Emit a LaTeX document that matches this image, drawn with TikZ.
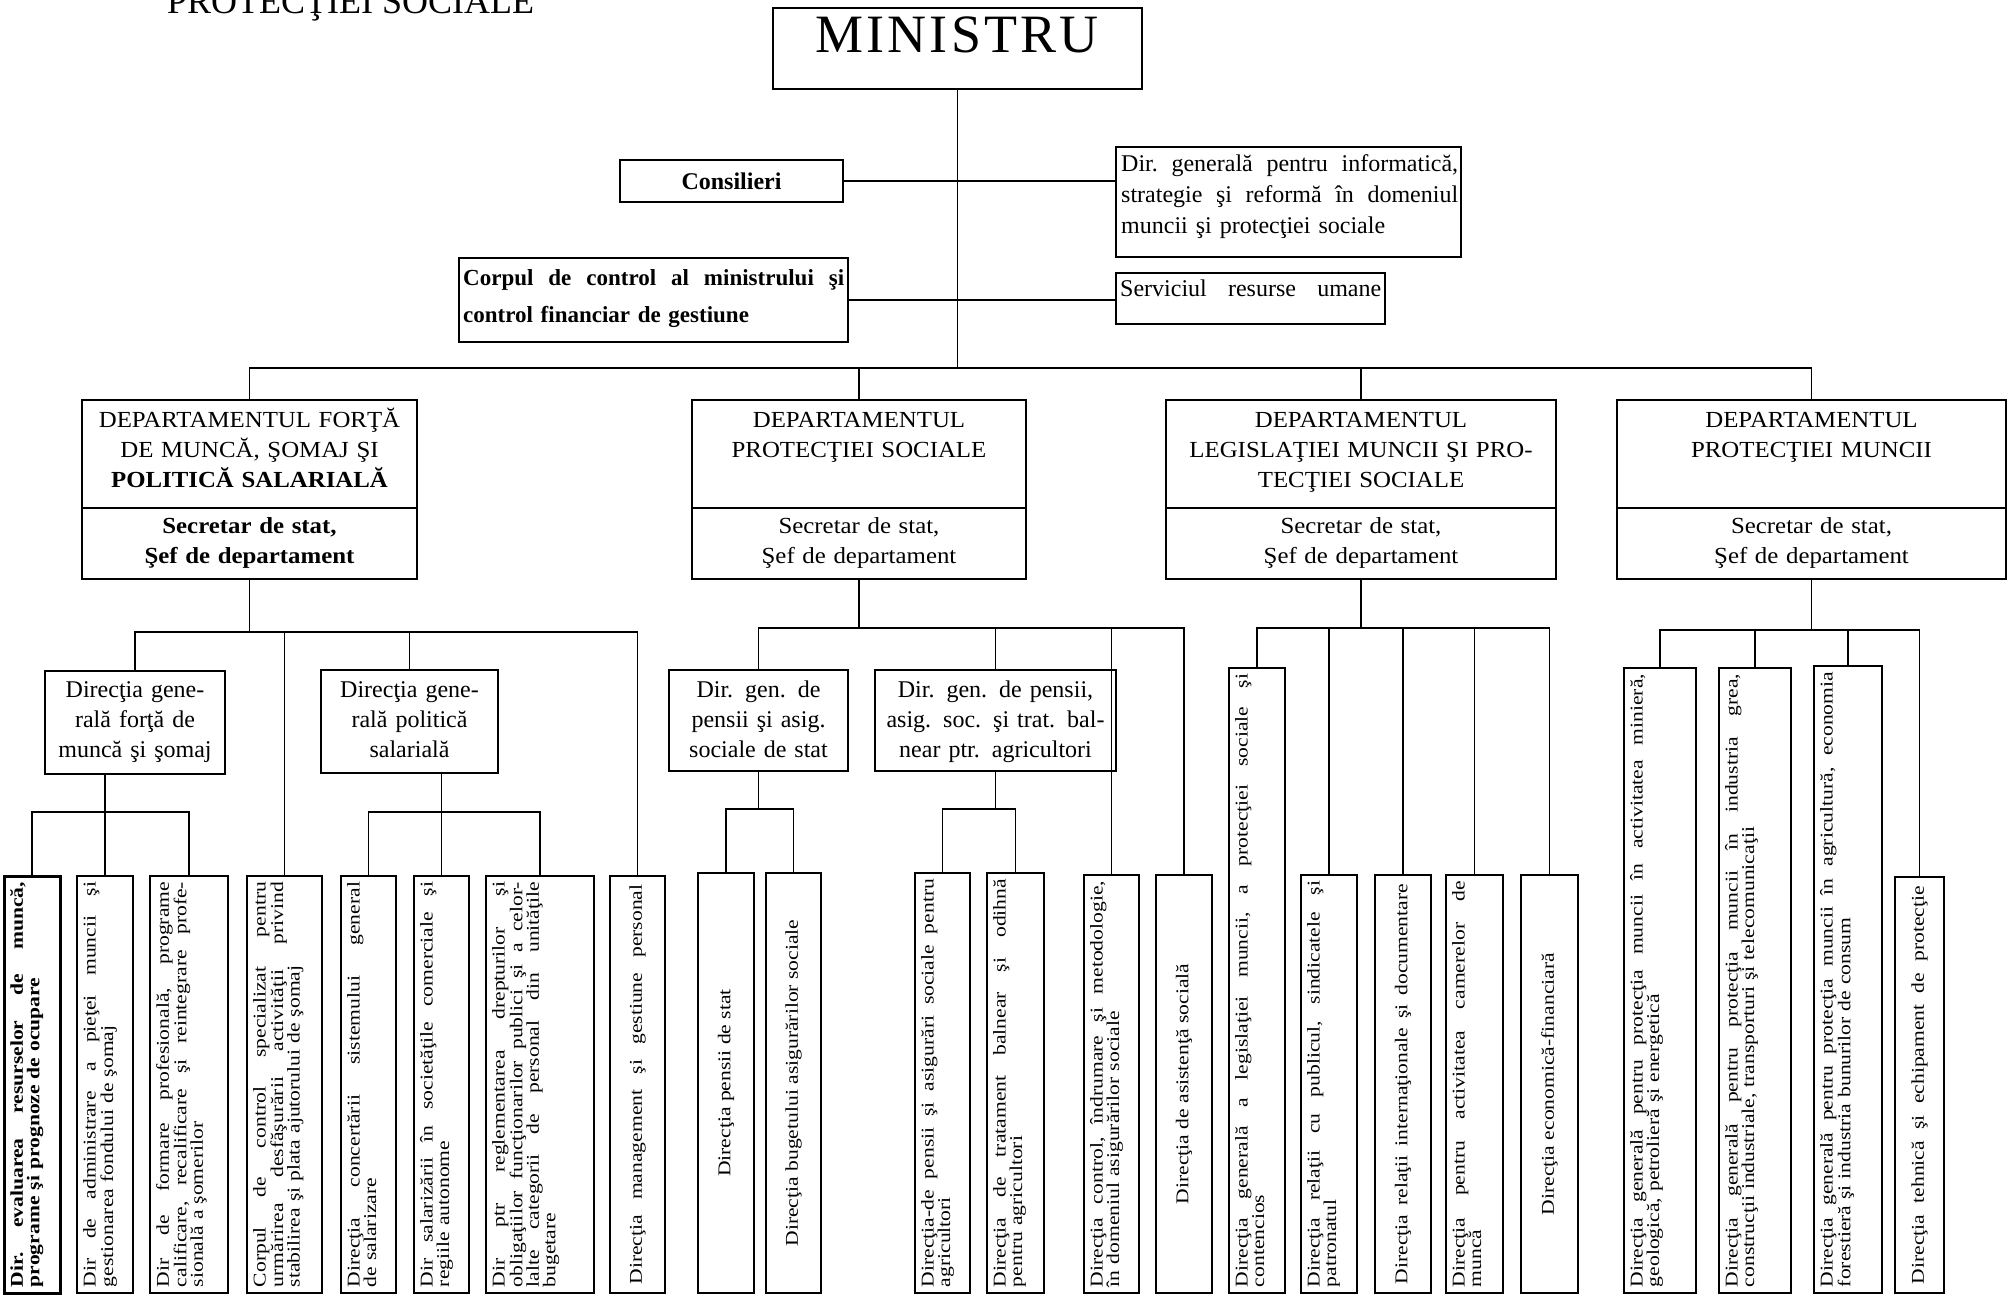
\documentclass[tikz,border=0pt]{standalone}
\usepackage{fontspec}
\setmainfont{Liberation Serif}
\newfontfamily\vfont[FakeStretch=1.2]{Liberation Serif}
\newfontfamily\dfont[FakeStretch=1.08]{Liberation Serif}
\newfontfamily\minfont[LetterSpace=6]{Liberation Serif}
\newcommand\fsz[2]{\fontsize{#1}{#2}\selectfont}
\def\jw{0pt}
\newcommand\myjl[1]{{\frenchspacing\spaceskip=0pt\xspaceskip=0pt\makebox[\jw][s]{#1}}}
\newcommand\mkbox[7][]{\node[bx,#1,minimum width={(#5)-(#3)},minimum height={(#6)-(#4)}] (#2) at ({((#3)+(#5))/2},{((#4)+(#6))/2}) {#7};}
\newcommand\vtx[4][]{\def\jw{#3}\node[vtxt,#1,text width=#3] (#2t) at ([xshift=6pt]#2.west) {#4};}
\newcommand\vcx[3][]{\node[vtxt,#1,anchor=center] (#2t) at (#2.center) {#3};}
\tikzset{
 bx/.style={draw, line width=2.4pt, rectangle, inner sep=0pt, outer sep=0pt, align=center},
 cn/.style={line width=1.7pt},
 vtxt/.style={rotate=90, anchor=north, align=left, inner sep=0pt, font=\vfont\fsz{18}{16.5}},
 ctxt/.style={align=center, inner sep=0pt, anchor=base, font=\fsz{23}{30}},
 dtxt/.style={ctxt, font=\dfont\fsz{23}{30}},
 ltxt/.style={align=left, inner sep=0pt, anchor=base west, font=\fsz{24}{31}},
}
\begin{document}
\begin{tikzpicture}[x=1pt, y=-1pt]
\useasboundingbox (0,0) rectangle (2010,1297);
% title (cut at top)
\node[anchor=base west, inner sep=0pt, font=\fsz{36}{40}] (title) at (167,14) {PROTECŢIEI SOCIALE};
% minister
\mkbox{min}{773}{8}{1142}{89}{}
\node[inner sep=0pt, font=\minfont\fsz{54}{60}] (mint) at (957,35) {MINISTRU};
\mkbox[font=\bfseries\fsz{24}{28}]{cons}{620}{160}{843}{202}{Consilieri}
\mkbox{dg}{1116}{147}{1461}{257}{}
\def\jw{337pt}
\node[ltxt, text width=337pt] (dgt) at (1121,172) {\myjl{Dir. generală pentru informatică,}\\ \myjl{strategie şi reformă în domeniul}\\ muncii şi protecţiei sociale};
\mkbox{corp}{459}{258}{848}{342}{}
\def\jw{381pt}
\node[ltxt, text width=381pt, font=\bfseries\fsz{23}{36}] (corpt) at (463,286) {\myjl{Corpul de control al ministrului şi}\\ control financiar de gestiune};
\mkbox{serv}{1116}{273}{1385}{324}{}
\def\jw{261pt}
\node[ltxt, text width=261pt] (servt) at (1120,297) {\myjl{Serviciul resurse umane}};
\coordinate (T) at (0,368);
\coordinate (M) at (0,508);
% departments
\mkbox{d1}{82}{400}{417}{579}{}
\mkbox{d2}{692}{400}{1026}{579}{}
\mkbox{d3}{1166}{400}{1556}{579}{}
\mkbox{d4}{1617}{400}{2006}{579}{}
\foreach \dd in {d1,d2,d3,d4}{
  \draw[bx] (\dd.west |- M) -- (\dd.east |- M);
  \draw[cn] (min.south) -- (min.south |- T) -| (\dd.north);
}
\draw[cn] (cons.east) -- (cons.east -| dg.west);
\draw[cn] (corp.east) -- (corp.east -| serv.west);
\node[dtxt, text width=325pt] (d1a) at (249.5,427) {DEPARTAMENTUL FORŢĂ\\ DE MUNCĂ, ŞOMAJ ŞI\\ \textbf{POLITICĂ SALARIALĂ}};
\node[dtxt, text width=325pt, font=\dfont\bfseries\fsz{23}{30}] (d1b) at (249.5,533) {Secretar de stat,\\ Şef de departament};
\node[dtxt, text width=325pt] (d2a) at (859,427) {DEPARTAMENTUL\\ PROTECŢIEI SOCIALE};
\node[dtxt, text width=325pt] (d2b) at (859,533) {Secretar de stat,\\ Şef de departament};
\node[dtxt, text width=380pt] (d3a) at (1361,427) {DEPARTAMENTUL\\ LEGISLAŢIEI MUNCII ŞI PRO-\\ TECŢIEI SOCIALE};
\node[dtxt, text width=380pt] (d3b) at (1361,533) {Secretar de stat,\\ Şef de departament};
\node[dtxt, text width=380pt] (d4a) at (1811.5,427) {DEPARTAMENTUL\\ PROTECŢIEI MUNCII};
\node[dtxt, text width=380pt] (d4b) at (1811.5,533) {Secretar de stat,\\ Şef de departament};
% second level
\mkbox{g1}{45}{671}{225}{774}{}
\mkbox{g2}{321}{670}{498}{773}{}
\mkbox{p1}{669}{670}{848}{771}{}
\mkbox{p2}{875}{670}{1116}{771}{}
\node[ctxt, text width=175pt, font=\fsz{24}{30}] (g1t) at (135,697) {Direcţia gene-\\ rală forţă de\\ muncă şi şomaj};
\node[ctxt, text width=175pt, font=\fsz{24}{30}] (g2t) at (409.5,697) {Direcţia gene-\\ rală politică\\ salarială};
\node[ctxt, text width=175pt, font=\fsz{24}{30}] (p1t) at (758.5,697) {Dir. gen. de\\ pensii şi asig.\\ sociale de stat};
\node[ctxt, text width=238pt, font=\fsz{24}{30}] (p2t) at (995.5,697) {Dir. gen. de pensii,\\ asig. soc. şi trat. bal-\\ near ptr. agricultori};
% bottom boxes
\mkbox[line width=3pt]{a1}{4}{876}{60}{1293}{}
\mkbox{a2}{77}{876}{133}{1293}{}
\mkbox{a3}{150}{876}{228}{1293}{}
\mkbox{a4}{247}{876}{322}{1293}{}
\mkbox{a5}{341}{876}{396}{1293}{}
\mkbox{a6}{414}{876}{469}{1293}{}
\mkbox{a7}{486}{876}{594}{1293}{}
\mkbox{a8}{610}{876}{665}{1293}{}
\mkbox{b1}{698}{873}{754}{1293}{}
\mkbox{b2}{766}{873}{821}{1293}{}
\mkbox{b3}{915}{873}{970}{1293}{}
\mkbox{b4}{987}{873}{1044}{1293}{}
\mkbox{b5}{1084}{875}{1139}{1293}{}
\mkbox{b6}{1156}{875}{1212}{1293}{}
\mkbox{c1}{1229}{668}{1285}{1293}{}
\mkbox{c2}{1301}{875}{1357}{1293}{}
\mkbox{c3}{1375}{875}{1431}{1293}{}
\mkbox{c4}{1446}{875}{1503}{1293}{}
\mkbox{c5}{1521}{875}{1578}{1293}{}
\mkbox{e1}{1624}{668}{1696}{1293}{}
\mkbox{e2}{1719}{668}{1791}{1293}{}
\mkbox{e3}{1814}{666}{1882}{1293}{}
\mkbox{e4}{1895}{877}{1944}{1293}{}
% connectors
\coordinate (L1) at (0,632);
\coordinate (L2) at (0,628);
\coordinate (L3) at (0,628);
\coordinate (L4) at (0,630);
\coordinate (S1) at (0,812);
\coordinate (S2) at (0,809);
\foreach \ch in {g1,a4,g2,a8} \draw[cn] (d1.south) -- (d1.south |- L1) -| (\ch.north);
\foreach \ch in {a1,a2,a3} \draw[cn] (a2.north |- g1.south) -- (a2.north |- S1) -| (\ch.north);
\foreach \ch in {a5,a6,a7} \draw[cn] (a6.north |- g2.south) -- (a6.north |- S1) -| (\ch.north);
\foreach \ch in {p1,p2,b5,b6} \draw[cn] (d2.south) -- (d2.south |- L2) -| (\ch.north);
\foreach \ch in {b1,b2} \draw[cn] (p1.south) -- (p1.south |- S2) -| (\ch.north);
\foreach \ch in {b3,b4} \draw[cn] (p2.south) -- (p2.south |- S2) -| (\ch.north);
\foreach \ch in {c1,c2,c3,c4,c5} \draw[cn] (d3.south) -- (d3.south |- L3) -| (\ch.north);
\foreach \ch in {e1,e2,e3,e4} \draw[cn] (d4.south) -- (d4.south |- L4) -| (\ch.north);
% rotated texts
\vtx[font=\vfont\bfseries\fsz{18}{16.5}]{a1}{405pt}{\myjl{Dir. evaluarea resurselor de muncă,}\\ programe şi prognoze de ocupare}
\vtx{a2}{405pt}{\myjl{Dir de administrare a pieţei muncii şi}\\ gestionarea fondului de şomaj}
\vtx{a3}{405pt}{\myjl{Dir de formare profesională, programe}\\ \myjl{calificare, recalificare şi reintegrare profe-}\\ sională a şomerilor}
\vtx{a4}{405pt}{\myjl{Corpul de control specializat pentru}\\ \myjl{urmărirea desfăşurării activităţii privind}\\ stabilirea şi plata ajutorului de şomaj}
\vtx{a5}{405pt}{\myjl{Direcţia concertării sistemului general}\\ de salarizare}
\vtx{a6}{405pt}{\myjl{Dir salarizării în societăţile comerciale şi}\\ regiile autonome}
\vtx{a7}{405pt}{\myjl{Dir ptr reglementarea drepturilor şi}\\ \myjl{obligaţiilor funcţionarilor publici şi a celor-}\\ \myjl{lalte categorii de personal din unităţile}\\ bugetare}
\vcx{a8}{\makebox[400pt][s]{Direcţia management şi gestiune personal}}
\vcx{b1}{Direcţia pensii de stat}
\vcx{b2}{Direcţia bugetului asigurărilor sociale}
\vtx{b3}{408pt}{\myjl{Direcţia-de pensii şi asigurări sociale pentru}\\ agricultori}
\vtx{b4}{408pt}{\myjl{Direcţia de tratament balnear şi odihnă}\\ pentru agricultori}
\vtx{b5}{406pt}{\myjl{Direcţia control, îndrumare şi metodologie,}\\ în domeniul asigurărilor sociale}
\vcx{b6}{Direcţia de asistenţă socială}
\vtx{c1}{613pt}{\myjl{Direcţia generală a legislaţiei muncii, a protecţiei sociale şi}\\ contencios}
\vtx{c2}{406pt}{\myjl{Direcţia relaţii cu publicul, sindicatele şi}\\ patronatul}
\vcx{c3}{\makebox[400pt][s]{Direcţia relaţii internaţionale şi documentare}}
\vtx{c4}{406pt}{\myjl{Direcţia pentru activitatea camerelor de}\\ muncă}
\vcx{c5}{Direcţia economică-financiară}
\vtx{e1}{613pt}{\myjl{Direcţia generală pentru protecţia muncii în activitatea minieră,}\\ geologică, petrolieră şi energetică}
\vtx{e2}{613pt}{\myjl{Direcţia generală pentru protecţia muncii în industria grea,}\\ construcţii industriale, transporturi şi telecomunicaţii}
\vtx{e3}{615pt}{\myjl{Direcţia generală pentru protecţia muncii în agricultură, economia}\\ forestieră şi industria bunurilor de consum}
\vcx{e4}{\makebox[398pt][s]{Direcţia tehnică şi echipament de protecţie}}
\end{tikzpicture}
\end{document}
